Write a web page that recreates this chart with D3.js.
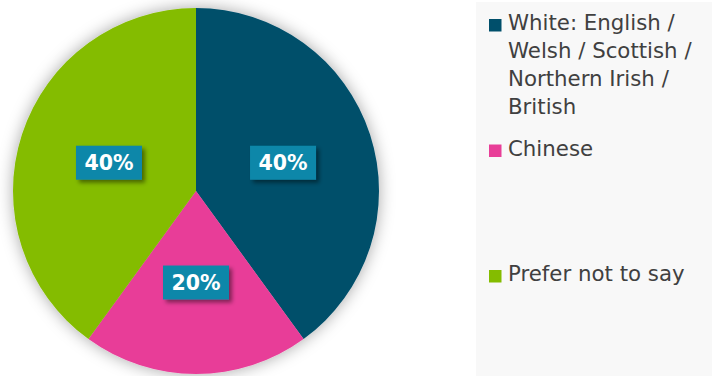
<!DOCTYPE html>
<html><head><meta charset="utf-8">
<script src="https://cdn.jsdelivr.net/npm/d3@7"></script>
<style>html,body{margin:0;padding:0;background:#fff;overflow:hidden}</style>
</head><body>
<svg id="c" width="712" height="376"></svg>
<script>
const categories = ["White: English / Welsh / Scottish / Northern Irish / British", "Chinese", "Prefer not to say"];
const legendLines = [["White: English /", "Welsh / Scottish /", "Northern Irish /", "British"], ["Chinese"], ["Prefer not to say"]];
const values = [40, 20, 40];
const colors = ["#004F6B", "#E83E98", "#84BC00"];

const svg = d3.select("#c");
const defs = svg.append("defs");
const f1 = defs.append("filter").attr("id","pieShadow").attr("x","-20%").attr("y","-20%").attr("width","140%").attr("height","140%");
f1.append("feDropShadow").attr("dx",0).attr("dy",0).attr("stdDeviation",8).attr("flood-color","#000").attr("flood-opacity",0.35);
const f2 = defs.append("filter").attr("id","boxShadow").attr("x","-30%").attr("y","-30%").attr("width","160%").attr("height","160%");
f2.append("feDropShadow").attr("dx",3).attr("dy",3).attr("stdDeviation",2).attr("flood-color","#000").attr("flood-opacity",0.45);

// legend background
svg.append("rect").attr("x",476).attr("y",2).attr("width",236).attr("height",374).attr("fill","#F8F8F8");

const cx = 196, cy = 191, r = 183;
const pie = d3.pie().sort(null).value(d => d)(values);
const arc = d3.arc().innerRadius(0).outerRadius(r);
const g = svg.append("g").attr("transform",`translate(${cx},${cy})`);
g.append("g").attr("filter","url(#pieShadow)").selectAll("path").data(pie).join("path")
  .attr("d",arc).attr("fill",(d,i)=>colors[i]);

const lab = g.selectAll("g.lab").data(pie).join("g").attr("class","lab")
  .attr("transform",d=>{const c=arc.centroid(d);return `translate(${c[0]},${c[1]})`;});
lab.append("rect").attr("x",-33).attr("y",-17).attr("width",66).attr("height",34)
  .attr("fill","#0E87A9").attr("filter","url(#boxShadow)");
lab.append("text").attr("text-anchor","middle").attr("dy","0.36em")
  .attr("font-family","DejaVu Sans, Verdana, sans-serif").attr("font-weight","bold").attr("font-size","20.5px")
  .attr("fill","#fff").text(d=>d.data+"%");

// legend
const ly = d3.scalePoint().domain(categories).range([19, 270]);
const leg = svg.append("g").selectAll("g").data(categories).join("g")
  .attr("transform",d=>`translate(489,${ly(d)})`);
leg.append("rect").attr("width",12.5).attr("height",12.5).attr("fill",(d,i)=>colors[i]);
leg.append("text").attr("x",19).attr("y",11)
  .attr("font-family","DejaVu Sans, Verdana, sans-serif").attr("font-size","21.3px").attr("fill","#404040")
  .selectAll("tspan").data((d,i)=>legendLines[i]).join("tspan")
  .attr("x",19).attr("dy",(d,i)=>i===0?0:28).text(d=>d);
</script>
</body></html>
